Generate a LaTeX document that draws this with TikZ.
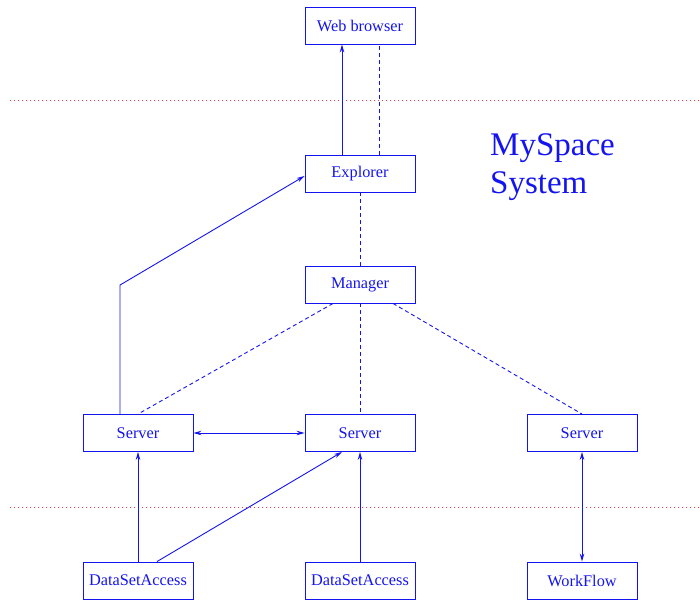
\documentclass[tikz,border=0pt]{standalone}
\usepackage{fontspec}
\setmainfont{Liberation Serif}
\usetikzlibrary{arrows.meta}
\definecolor{lineblue}{RGB}{20,20,240}
\definecolor{dotred}{RGB}{230,60,60}
\tikzset{
  box/.style={draw=lineblue, text=lineblue, line width=0.9pt, minimum width=110pt, minimum height=37pt, inner sep=0pt, font=\fontsize{16.3}{19}\selectfont},
  conn/.style={draw=lineblue, line width=0.9pt},
  arr/.style={conn, -{Stealth[length=8pt,width=4.5pt]}},
  darr/.style={conn, {Stealth[length=8pt,width=4.5pt]}-{Stealth[length=8pt,width=4.5pt]}},
  dsh/.style={conn, dash pattern=on 4pt off 3pt},
  sep/.style={draw=dotred, line width=0.8pt, dash pattern=on 1pt off 3pt}
}
\begin{document}
\begin{tikzpicture}[x=1pt,y=-1pt]
\useasboundingbox (0,0) rectangle (700,601);
\node[box] (wb) at (360,25.5) {Web browser};
\node[box] (ex) at (360,173.5) {Explorer};
\node[box] (mg) at (360,284.5) {Manager};
\node[box] (sl) at (138,433) {Server};
\node[box] (sm) at (360,433) {Server};
\node[box] (sr) at (582,433) {Server};
\node[box] (dl) at (138,580.5) {DataSetAccess};
\node[box] (dm) at (360,580.5) {DataSetAccess};
\node[box] (wf) at (582,580.5) {WorkFlow};
\node[text=lineblue, font=\fontsize{33}{38}\selectfont, align=left, anchor=north west, inner sep=0pt] (title) at (490,133) {MySpace\\System};
\coordinate (s1a) at (10,100);
\coordinate (s1b) at (700,100);
\coordinate (s2a) at (10,507);
\coordinate (s2b) at (700,507);
\draw[sep] (s1a) -- (s1b);
\draw[sep] (s2a) -- (s2b);
\draw[arr] ([xshift=-18pt]ex.north) -- ([xshift=-18pt]wb.south);
\draw[dsh] ([xshift=19pt]ex.north) -- ([xshift=19pt]wb.south);
\draw[dsh] (ex.south) -- (mg.north);
\draw[dsh] ([xshift=-27pt]mg.south) -- (sl.north);
\draw[dsh] (mg.south) -- (sm.north);
\draw[dsh] ([xshift=33pt]mg.south) -- (sr.north);
\draw[arr] ([xshift=-18pt]sl.north) -- ++(0,-129) -- ([yshift=-2.5pt]ex.west);
\draw[darr] (sl.east) -- (sm.west);
\draw[arr] (dl.north) -- (sl.south);
\draw[arr] ([xshift=19pt]dl.north) -- ([xshift=-18pt]sm.south);
\draw[arr] (dm.north) -- (sm.south);
\draw[darr] (sr.south) -- (wf.north);
\end{tikzpicture}
\end{document}
